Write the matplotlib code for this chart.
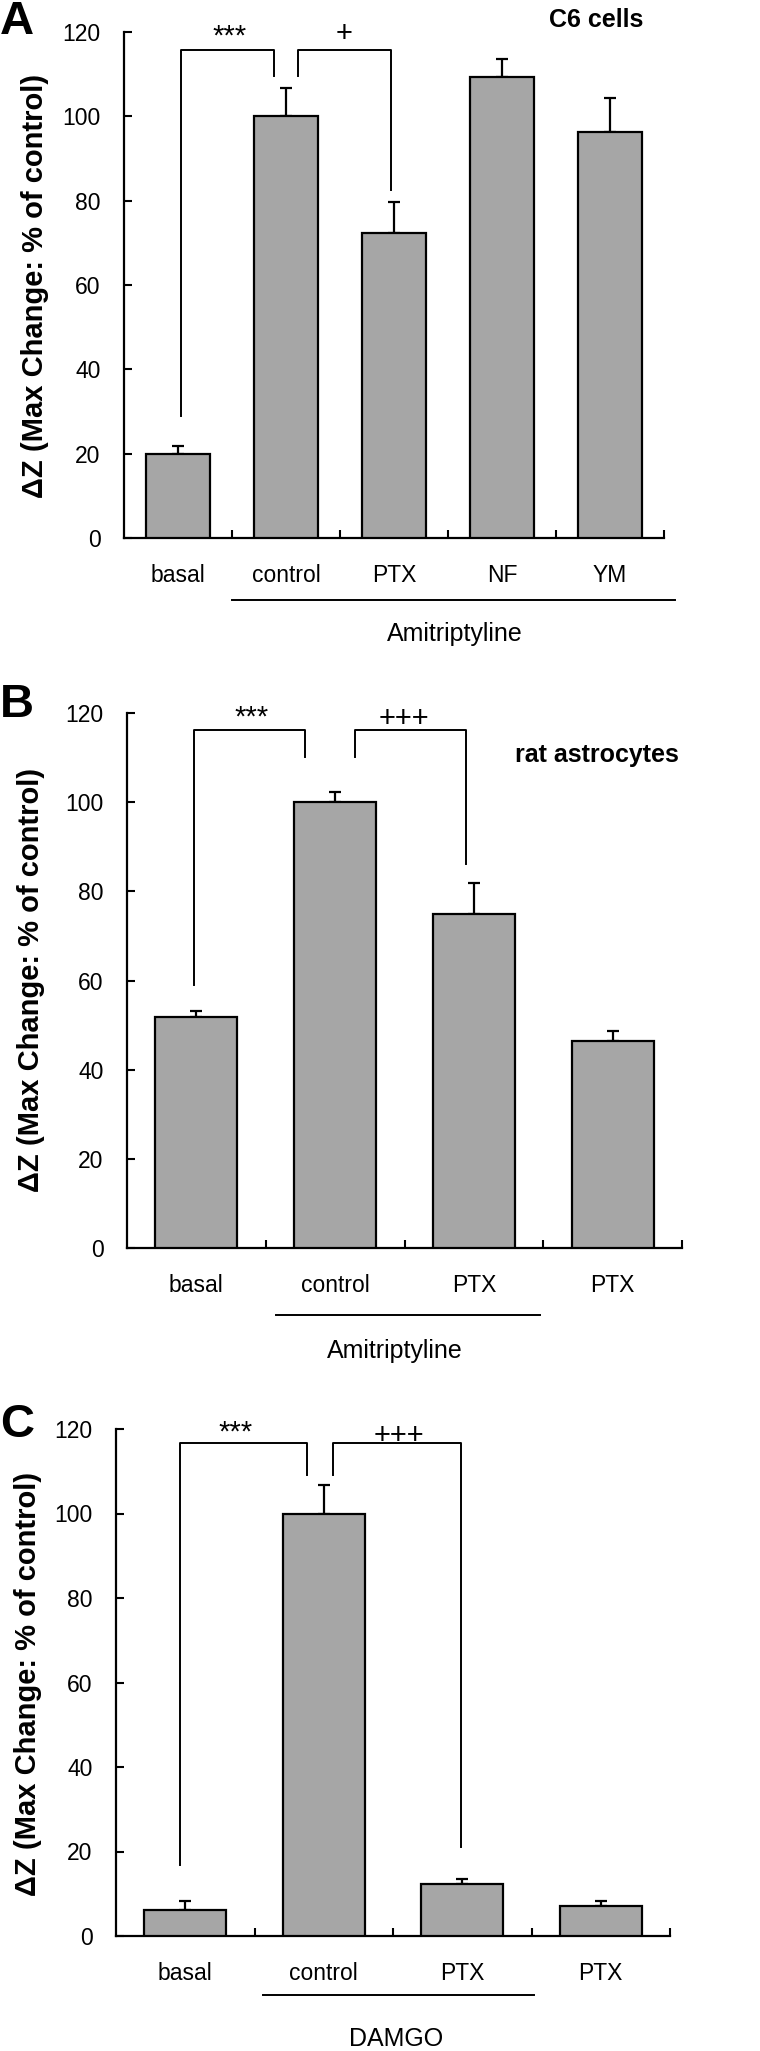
import matplotlib
matplotlib.use("Agg")
import matplotlib.pyplot as plt
import matplotlib.transforms as mtransforms

plt.rcParams['font.family'] = ['Liberation Sans', 'DejaVu Sans']

# panel A: C6 cells
cats_a = ['basal', 'control', 'PTX', 'NF', 'YM']
vals_a = [20.0, 100.0, 72.3, 109.4, 96.4]
errs_a = [1.8, 6.7, 7.3, 4.3, 7.9]

# panel B: rat astrocytes
cats_b = ['basal', 'control', 'PTX', 'PTX']
vals_b = [51.8, 100.0, 74.9, 46.4]
errs_b = [1.4, 2.3, 6.9, 2.2]

# panel C: DAMGO
cats_c = ['basal', 'control', 'PTX', 'PTX']
vals_c = [6.1, 100.0, 12.2, 7.2]
errs_c = [2.2, 6.7, 1.3, 1.0]

# significance brackets: (x_left, y_left_end, x_right, y_right_end, y_top, label, label_x, label_offset_px)
brackets_a = [(0.03, 29.0, 0.885, 109.6, 115.7, '***', 0.48, 14),
              (1.11, 109.6, 1.97, 82.6, 115.7, '+', 1.535, 16)]
brackets_b = [(-0.02, 59.1, 0.78, 110.2, 116.2, '***', 0.40, 12),
              (1.14, 110.2, 1.94, 86.1, 116.2, '+++', 1.495, 11)]
brackets_c = [(-0.04, 16.7, 0.88, 109.2, 116.7, '***', 0.365, 10),
              (1.07, 109.2, 1.99, 21.0, 116.7, '+++', 1.54, 7)]

W, H = 760, 2051
fig = plt.figure(figsize=(W / 100, H / 100), dpi=100)

BAR = '#a6a6a6'


def px_axes(left, right, top, bottom):
    return fig.add_axes([left / W, 1 - bottom / H, (right - left) / W, (bottom - top) / H])


def draw_panel(ax, cats, vals, errs, brackets, lab_y, line_x, line_y, group, group_x, group_y):
    n = len(cats)
    x = list(range(n))
    ax.errorbar(x, vals, yerr=[[0] * n, errs], fmt='none', ecolor='black',
                elinewidth=1.6, capsize=4.5, capthick=1.6, zorder=2)
    ax.bar(x, vals, width=0.59, color=BAR, edgecolor='black', linewidth=1.6, zorder=3)
    ax.set_xlim(-0.5, n - 0.5)
    ax.set_ylim(0, 120)
    ax.set_yticks(range(0, 121, 20))
    ax.set_xticks([i + 0.5 for i in range(n)])
    ax.set_xticklabels([])
    ax.tick_params(axis='y', direction='in', length=6, width=1.5, pad=17, labelsize=16.5)
    ax.tick_params(axis='x', direction='in', length=6, width=1.5)
    for s in ['top', 'right']:
        ax.spines[s].set_visible(False)
    for s in ['left', 'bottom']:
        ax.spines[s].set_linewidth(1.6)

    trans = mtransforms.blended_transform_factory(ax.transData, ax.transAxes)
    for i, c in enumerate(cats):
        ax.text(i, lab_y, c, transform=trans, ha='center', va='center', fontsize=16.5)
    ax.plot(line_x, [line_y, line_y], color='black', lw=1.4, transform=trans, clip_on=False)
    ax.text(group_x, group_y, group, transform=trans, ha='center', va='center', fontsize=18)

    for x1, y1, x2, y2, yt, lab, lx, off in brackets:
        ax.plot([x1, x1, x2, x2], [y1, yt, yt, y2], color='black', lw=1.4, clip_on=False, zorder=4)
        ax.annotate(lab, xy=(lx, yt), xytext=(0, off), textcoords='offset pixels',
                    ha='center', va='center', fontsize=21, annotation_clip=False)


YLAB = 'ΔZ (Max Change: % of control)'

# A
ax_a = px_axes(124, 664, 32, 538)
draw_panel(ax_a, cats_a, vals_a, errs_a, brackets_a, -0.075, [0.5, 4.6], -0.1225,
           'Amitriptyline', 2.565, -0.19)
fig.text(0 / W, 1 - 0 / H, 'A', fontsize=34, fontweight='bold', ha='left', va='top')
fig.text(35 / W, 1 - 286 / H, YLAB, fontsize=21, fontweight='bold', rotation=90,
         ha='center', va='center')
fig.text(596 / W, 1 - 20 / H, 'C6 cells', fontsize=18, fontweight='bold', ha='center', va='center')

# B
ax_b = px_axes(127, 682, 713, 1248)
draw_panel(ax_b, cats_b, vals_b, errs_b, brackets_b, -0.071, [0.574, 2.477], -0.125,
           'Amitriptyline', 1.43, -0.1925)
fig.text(0 / W, 1 - 683 / H, 'B', fontsize=34, fontweight='bold', ha='left', va='top')
fig.text(31 / W, 1 - 980 / H, YLAB, fontsize=21, fontweight='bold', rotation=90,
         ha='center', va='center')
fig.text(679 / W, 1 - 755 / H, 'rat astrocytes', fontsize=18, fontweight='bold', ha='right', va='center')

# C
ax_c = px_axes(116, 670, 1429, 1936)
draw_panel(ax_c, cats_c, vals_c, errs_c, brackets_c, -0.073, [0.561, 2.518], -0.116,
           'DAMGO', 1.52, -0.203)
fig.text(0 / W, 1 - 1403 / H, 'C', fontsize=34, fontweight='bold', ha='left', va='top')
fig.text(28 / W, 1 - 1684 / H, YLAB, fontsize=21, fontweight='bold', rotation=90,
         ha='center', va='center')

fig.savefig('out.png', dpi=100)
